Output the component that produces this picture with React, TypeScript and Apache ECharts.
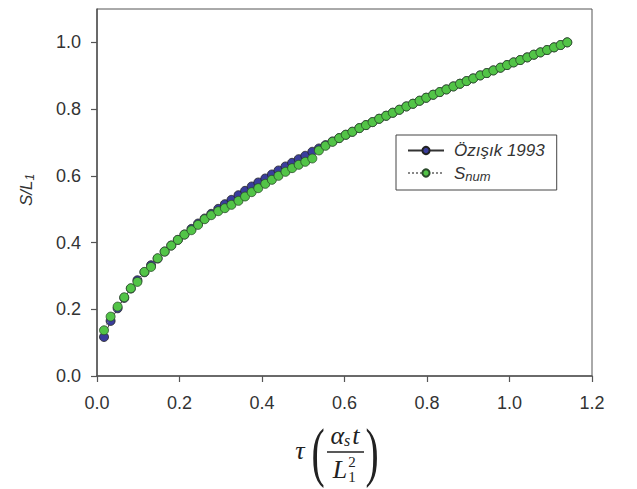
import React, { useEffect, useRef } from 'react';
import * as echarts from 'echarts';

const tau = [
  0.017, 0.033, 0.050, 0.066, 0.082, 0.098, 0.115, 0.131, 0.147, 0.164,
  0.180, 0.196, 0.212, 0.229, 0.245, 0.261, 0.277, 0.294, 0.310, 0.326,
  0.343, 0.359, 0.375, 0.391, 0.408, 0.424, 0.440, 0.457, 0.473, 0.489,
  0.505, 0.522, 0.538, 0.554, 0.571, 0.587, 0.603, 0.619, 0.636, 0.652,
  0.668, 0.684, 0.701, 0.717, 0.733, 0.750, 0.766, 0.782, 0.798, 0.815,
  0.831, 0.847, 0.864, 0.880, 0.896, 0.912, 0.929, 0.945, 0.961, 0.978,
  0.994, 1.010, 1.026, 1.043, 1.059, 1.075, 1.091, 1.108, 1.124, 1.140,
];

const ozisik1993 = [
  0.117, 0.165, 0.203, 0.234, 0.262, 0.287, 0.311, 0.332, 0.352, 0.373,
  0.391, 0.408, 0.424, 0.441, 0.457, 0.472, 0.486, 0.501, 0.515, 0.528,
  0.542, 0.555, 0.568, 0.580, 0.592, 0.604, 0.616, 0.628, 0.639, 0.650,
  0.660, 0.672, 0.682, 0.692, 0.703, 0.713, 0.723, 0.732, 0.743, 0.752,
  0.761, 0.771, 0.780, 0.789, 0.798, 0.808, 0.816, 0.825, 0.834, 0.843,
  0.851, 0.859, 0.868, 0.876, 0.884, 0.892, 0.901, 0.908, 0.916, 0.924,
  0.932, 0.940, 0.947, 0.955, 0.963, 0.970, 0.977, 0.985, 0.992, 1.000,
];

const sNum = [
  0.137, 0.178, 0.208, 0.236, 0.263, 0.282, 0.312, 0.327, 0.353, 0.373,
  0.391, 0.408, 0.424, 0.437, 0.453, 0.470, 0.482, 0.494, 0.503, 0.513,
  0.525, 0.538, 0.551, 0.563, 0.576, 0.588, 0.600, 0.612, 0.623, 0.633,
  0.642, 0.652, 0.676, 0.690, 0.702, 0.713, 0.723, 0.732, 0.743, 0.752,
  0.761, 0.771, 0.780, 0.789, 0.798, 0.808, 0.816, 0.825, 0.834, 0.843,
  0.851, 0.859, 0.868, 0.876, 0.884, 0.892, 0.901, 0.908, 0.916, 0.924,
  0.932, 0.940, 0.947, 0.955, 0.963, 0.970, 0.977, 0.985, 0.992, 1.000,
];

const yTickValues = [0, 0.2, 0.4, 0.6, 0.8, 1.0];
const seriesNames = ['Özışık 1993', 'Snum'];

const AXIS_COLOR = '#555';
const LABEL_FONT = 'Liberation Sans, Arial, sans-serif';
const MATH_FONT = 'Liberation Serif, DejaVu Serif, serif';

export default function App() {
  const ref = useRef<HTMLDivElement>(null);

  useEffect(() => {
    document.body.style.margin = '0';
    const chart = echarts.init(ref.current!, null, { renderer: 'svg' });

    const pair = (ys: number[]) => tau.map((t, i) => [t, ys[i]]);

    chart.setOption({
      animation: false,
      backgroundColor: '#fff',
      grid: {
        left: 97,
        right: 45,
        top: 9,
        bottom: 113,
        show: true,
        borderColor: AXIS_COLOR,
        borderWidth: 1,
      },
      xAxis: {
        type: 'value',
        min: 0,
        max: 1.2,
        interval: 0.2,
        splitLine: { show: false },
        axisLine: { lineStyle: { color: AXIS_COLOR, width: 1.5 } },
        axisTick: { inside: false, length: 6, lineStyle: { color: AXIS_COLOR, width: 1.2 } },
        axisLabel: {
          margin: 18,
          fontSize: 18,
          color: '#333',
          fontFamily: LABEL_FONT,
          formatter: (v: number) => v.toFixed(1),
        },
      },
      yAxis: {
        type: 'value',
        min: 0,
        max: 1.1,
        splitLine: { show: false },
        axisLine: { lineStyle: { color: AXIS_COLOR, width: 1.5 } },
        axisTick: {
          inside: false,
          length: 6,
          customValues: yTickValues,
          lineStyle: { color: AXIS_COLOR, width: 1.2 },
        },
        axisLabel: {
          margin: 16,
          fontSize: 18,
          color: '#333',
          fontFamily: LABEL_FONT,
          customValues: yTickValues,
          formatter: (v: number) => v.toFixed(1),
        },
      },
      legend: {
        data: seriesNames,
        orient: 'vertical',
        left: 396,
        top: 135,
        padding: [7, 12, 7, 11],
        itemGap: 2,
        itemWidth: 36,
        itemHeight: 9,
        borderColor: '#444',
        borderWidth: 1,
        backgroundColor: '#fff',
        formatter: (name: string) =>
          name === 'Snum' ? '{i|S}{sub|num}' : '{i|Özışık 1993}',
        textStyle: {
          fontFamily: LABEL_FONT,
          rich: {
            i: {
              fontSize: 17,
              fontStyle: 'italic',
              color: '#333',
              fontFamily: LABEL_FONT,
              lineHeight: 20,
              padding: [0, 0, 0, 5],
            },
            sub: {
              fontSize: 13,
              fontStyle: 'italic',
              color: '#333',
              fontFamily: LABEL_FONT,
              lineHeight: 13,
              verticalAlign: 'bottom',
              padding: [9, 0, 0, 0],
            },
          },
        },
      },
      series: [
        {
          name: seriesNames[0],
          type: 'line',
          data: pair(ozisik1993),
          symbol: 'circle',
          symbolSize: 9,
          lineStyle: { color: '#333', width: 1 },
          itemStyle: { color: '#3a3d9c', borderColor: '#222', borderWidth: 0.8 },
          z: 2,
        },
        {
          name: seriesNames[1],
          type: 'line',
          data: pair(sNum),
          symbol: 'circle',
          symbolSize: 9,
          lineStyle: { color: '#888', width: 1, type: 'dotted' },
          itemStyle: { color: '#52c447', borderColor: '#2a4a2a', borderWidth: 0.8 },
          z: 3,
        },
      ],
      graphic: [
        {
          type: 'text',
          x: 26,
          y: 190,
          rotation: Math.PI / 2,
          style: {
            text: '{i|S/L}{sub|1}',
            align: 'center',
            verticalAlign: 'middle',
            rich: {
              i: { fontSize: 17, fontStyle: 'italic', fill: '#333', fontFamily: LABEL_FONT, lineHeight: 20 },
              sub: {
                fontSize: 12,
                fontStyle: 'italic',
                fill: '#333',
                fontFamily: LABEL_FONT,
                lineHeight: 12,
                verticalAlign: 'bottom',
                padding: [8, 0, 0, 0],
              },
            },
          },
        },
        {
          type: 'group',
          children: [
            {
              type: 'text',
              x: 300,
              y: 450,
              style: {
                text: 'τ',
                font: 'italic 26px ' + MATH_FONT,
                fill: '#222',
                align: 'center',
                verticalAlign: 'middle',
              },
            },
            {
              type: 'text',
              x: 318,
              y: 452,
              scaleX: 0.6,
              style: {
                text: '(',
                font: '66px ' + MATH_FONT,
                fill: '#222',
                align: 'center',
                verticalAlign: 'middle',
              },
            },
            {
              type: 'text',
              x: 372,
              y: 452,
              scaleX: 0.6,
              style: {
                text: ')',
                font: '66px ' + MATH_FONT,
                fill: '#222',
                align: 'center',
                verticalAlign: 'middle',
              },
            },
            {
              type: 'text',
              x: 345,
              y: 435,
              style: {
                text: '{a|α}{s|s}{a|t}',
                align: 'center',
                verticalAlign: 'middle',
                rich: {
                  a: { fontSize: 26, fontStyle: 'italic', fontFamily: MATH_FONT, fill: '#222', lineHeight: 26 },
                  s: {
                    fontSize: 16,
                    fontStyle: 'italic',
                    fontFamily: MATH_FONT,
                    fill: '#222',
                    lineHeight: 16,
                    verticalAlign: 'bottom',
                    padding: [8, 2, 0, 0],
                  },
                },
              },
            },
            {
              type: 'line',
              shape: { x1: 327, y1: 452, x2: 364, y2: 452 },
              style: { stroke: '#222', lineWidth: 1.3 },
            },
            {
              type: 'text',
              x: 340,
              y: 469,
              style: {
                text: 'L',
                font: 'italic 26px ' + MATH_FONT,
                fill: '#222',
                align: 'center',
                verticalAlign: 'middle',
              },
            },
            {
              type: 'text',
              x: 352,
              y: 462,
              style: {
                text: '2',
                font: '15px ' + MATH_FONT,
                fill: '#222',
                align: 'center',
                verticalAlign: 'middle',
              },
            },
            {
              type: 'text',
              x: 352,
              y: 477,
              style: {
                text: '1',
                font: '15px ' + MATH_FONT,
                fill: '#222',
                align: 'center',
                verticalAlign: 'middle',
              },
            },
          ],
        },
      ],
    });

    return () => chart.dispose();
  }, []);

  return <div ref={ref} style={{ width: 637, height: 489, background: '#fff' }} />;
}
